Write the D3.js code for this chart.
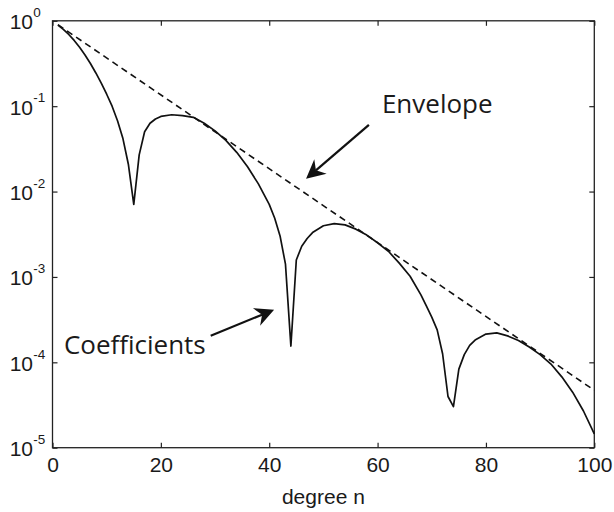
<!DOCTYPE html>
<html>
<head>
<meta charset="utf-8">
<script src="https://cdn.jsdelivr.net/npm/d3@7"></script>
<style>
    body { margin: 0; background: #ffffff; }
    svg { display: block; }
    .tickLabel { font-family: "Liberation Sans", Arial, Helvetica, sans-serif; font-size: 21px; fill: #1a1a1a; }
    .tickExp { font-family: "Liberation Sans", Arial, Helvetica, sans-serif; font-size: 13.5px; fill: #1a1a1a; }
    .note { font-family: "Open Sans", sans-serif; font-size: 26px; fill: #1a1a1a; }
</style>
</head>
<body>
<svg id="chart"></svg>
<script>

/* Data */
const degrees = [1, 2, 3, 4, 5, 6, 7, 8, 9, 10, 11, 12, 13, 14, 15, 16, 17, 18, 19, 20,
    22, 24, 26, 28, 30, 32, 34, 36, 38, 39, 40,
    41, 42, 43, 44, 45, 46, 47, 48,
    50, 52, 54, 56, 58, 60, 62, 64, 66,
    68, 69, 70, 71, 72, 73, 74, 75, 76, 77, 78,
    80, 82, 84, 86, 88, 90, 92, 94, 96, 98, 100];
const coefficients = [0.891, 0.794, 0.692, 0.589, 0.490, 0.398, 0.316, 0.245, 0.186, 0.138,
    0.100, 0.0676, 0.0417, 0.0209, 0.00708, 0.0269, 0.0501, 0.0631, 0.0708, 0.0759,
    0.0794, 0.0776, 0.0741, 0.0631, 0.0513, 0.0398, 0.0288, 0.0195, 0.0123, 0.00933, 0.00708,
    0.00490, 0.00302, 0.00141, 0.000155, 0.00158, 0.00229, 0.00282, 0.00331,
    0.00398, 0.00422, 0.00407, 0.00363, 0.00309, 0.00251, 0.00200, 0.00145, 0.00102,
    0.000617, 0.000457, 0.000339, 0.000240, 0.000126, 0.0000398, 0.0000302, 0.0000832, 0.000123, 0.000158, 0.000182,
    0.000214, 0.000221, 0.000204, 0.000180, 0.000151, 0.000123, 0.0000955, 0.0000676, 0.0000447, 0.0000269, 0.0000145];

const envelopeDegrees = [1, 100];
const envelopeValues = [0.9, 0.000047];

const xTicks = [0, 20, 40, 60, 80, 100];
const yTicks = [1, 1e-1, 1e-2, 1e-3, 1e-4, 1e-5];
const yTickExponents = ["0", "-1", "-2", "-3", "-4", "-5"];

/* Annotations: text anchor and arrow tail -> tip, in data units */
const noteLabels = ["Envelope", "Coefficients"];
const noteTextAt = [[60.8, 0.0843], [2.1, 0.000126]];
const noteArrowFrom = [[58.4, 0.0605], [29.2, 0.000205]];
const noteArrowTo = [[46.8, 0.0141], [40.9, 0.000413]];

/* Configure sizes */
let svgWidth = 614;
let svgHeight = 512;
let padding = { top: 20.8, left: 52.5, right: 19.7, bottom: 64.3 };
let plotWidth = svgWidth - padding.left - padding.right;
let plotHeight = svgHeight - padding.top - padding.bottom;

let svg = d3.select("svg#chart")
    .attr("width", svgWidth)
    .attr("height", svgHeight);

let plot = svg.append("g")
    .attr("transform", "translate(" + padding.left + "," + padding.top + ")");

let xScale = d3.scaleLinear().domain([0, 100]).range([0, plotWidth]);
let yScale = d3.scaleLog().domain([1e-5, 1]).range([plotHeight, 0]);

/* Inward ticks on all four sides */
let tickLen = 5;
let bottomAxis = plot.append("g")
    .attr("transform", "translate(0," + plotHeight + ")")
    .call(d3.axisBottom(xScale).tickValues(xTicks).tickSize(-tickLen).tickPadding(9.5).tickFormat(d3.format("d")));
plot.append("g")
    .call(d3.axisTop(xScale).tickValues(xTicks).tickSize(-tickLen).tickFormat(""));
let leftAxis = plot.append("g")
    .call(d3.axisLeft(yScale).tickValues(yTicks).tickSize(-tickLen).tickFormat(""));
plot.append("g")
    .attr("transform", "translate(" + plotWidth + ",0)")
    .call(d3.axisRight(yScale).tickValues(yTicks).tickSize(-tickLen).tickFormat(""));

plot.selectAll(".tick line").attr("stroke", "#222222").attr("stroke-width", 1.2);
plot.selectAll("path.domain").remove();

bottomAxis.selectAll(".tick text")
    .attr("class", "tickLabel")
    .attr("font-size", null)
    .attr("font-family", null);
bottomAxis.attr("font-size", null).attr("font-family", null);

/* y labels as 10 with a raised exponent */
yTicks.forEach((v, i) => {
    let yPos = yScale(v);
    leftAxis.append("text")
        .attr("class", "tickLabel")
        .attr("x", -19.5)
        .attr("y", yPos + 8.5)
        .style("text-anchor", "end")
        .text("10");
    leftAxis.append("text")
        .attr("class", "tickExp")
        .attr("x", -19.2)
        .attr("y", yPos - 3.8)
        .style("text-anchor", "start")
        .text(yTickExponents[i]);
});

/* Frame */
plot.append("rect")
    .attr("x", 0)
    .attr("y", 0)
    .attr("width", plotWidth)
    .attr("height", plotHeight)
    .attr("fill", "none")
    .attr("stroke", "#222222")
    .attr("stroke-width", 1.3);

/* Axis label */
svg.append("text")
    .attr("class", "tickLabel")
    .attr("x", padding.left + plotWidth / 2)
    .attr("y", 503.5)
    .style("text-anchor", "middle")
    .text("degree n");

/* Envelope, dashed */
let envelopeLine = d3.line()
    .x((d, i) => xScale(envelopeDegrees[i]))
    .y(d => yScale(d));
plot.append("path")
    .attr("d", envelopeLine(envelopeValues))
    .attr("fill", "none")
    .attr("stroke", "#111111")
    .attr("stroke-width", 1.6)
    .attr("stroke-dasharray", "6.5,4.5");

/* Coefficients, solid */
let coefLine = d3.line()
    .x((d, i) => xScale(degrees[i]))
    .y(d => yScale(d));
plot.append("path")
    .attr("d", coefLine(coefficients))
    .attr("fill", "none")
    .attr("stroke", "#111111")
    .attr("stroke-width", 1.7)
    .attr("stroke-linejoin", "round");

/* Annotations */
noteLabels.forEach((label, i) => {
    plot.append("text")
        .attr("class", "note")
        .attr("x", xScale(noteTextAt[i][0]))
        .attr("y", yScale(noteTextAt[i][1]))
        .text(label);

    let x1 = xScale(noteArrowFrom[i][0]), y1 = yScale(noteArrowFrom[i][1]);
    let x2 = xScale(noteArrowTo[i][0]), y2 = yScale(noteArrowTo[i][1]);
    let len = Math.hypot(x2 - x1, y2 - y1);
    let ux = (x2 - x1) / len, uy = (y2 - y1) / len;
    let px = -uy, py = ux;
    let headLen = 19, headHalf = 9.5, notch = 13;

    plot.append("line")
        .attr("x1", x1)
        .attr("y1", y1)
        .attr("x2", x2 - ux * notch)
        .attr("y2", y2 - uy * notch)
        .attr("stroke", "#111111")
        .attr("stroke-width", 2.2);

    let head = [
        [x2, y2],
        [x2 - ux * headLen + px * headHalf, y2 - uy * headLen + py * headHalf],
        [x2 - ux * notch, y2 - uy * notch],
        [x2 - ux * headLen - px * headHalf, y2 - uy * headLen - py * headHalf]
    ];
    plot.append("path")
        .attr("d", "M" + head.map(p => p.join(",")).join("L") + "Z")
        .attr("fill", "#111111");
});

</script>
</body>
</html>
